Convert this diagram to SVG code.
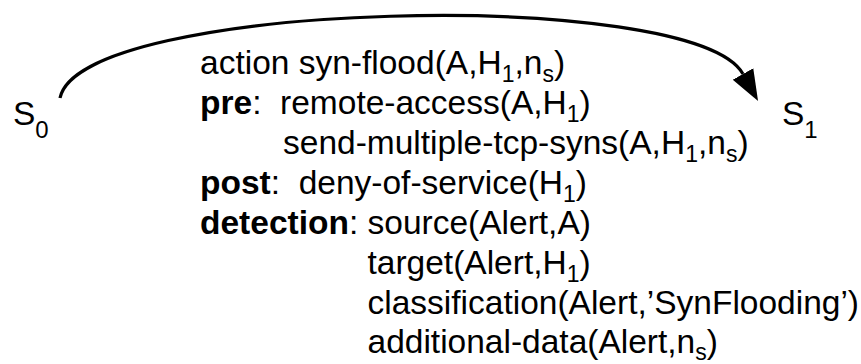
<svg xmlns="http://www.w3.org/2000/svg" width="861" height="364" viewBox="0 0 861 364">
  <style>
    text { font-family: "Liberation Sans", Arial, Helvetica, sans-serif; font-size: 33.5px; fill: #000; }
    .b { font-weight: bold; }
    .sub { font-size: 23px; }
    .ssub { font-size: 24px; }
    .edge { fill: none; stroke: #000; stroke-width: 3.2; }
  </style>
  <defs>
    <marker id="arrow" markerUnits="userSpaceOnUse" markerWidth="32" markerHeight="26" refX="0" refY="11" orient="auto" viewBox="0 0 30 22">
      <path d="M0,0 L29,11 L0,22 z" fill="#000"/>
    </marker>
  </defs>

  <!-- states -->
  <g id="s0">
    <text x="13" y="125">S<tspan class="ssub" dy="13">0</tspan></text>
  </g>
  <g id="s1">
    <text x="782" y="125">S<tspan class="ssub" dy="13">1</tspan></text>
  </g>

  <!-- transition -->
  <g id="connectors">
    <path class="edge" d="M60,98 C80,0 694,-14 743,74" marker-end="url(#arrow)"/>
  </g>

  <!-- action definition -->
  <g id="action">
    <text x="200" y="74">action syn-flood(A,H<tspan class="sub" dy="8">1</tspan><tspan dy="-8">,n</tspan><tspan class="sub" dy="8">s</tspan><tspan dy="-8">)</tspan></text>
    <text x="200" y="114" xml:space="preserve"><tspan class="b">pre</tspan>:  remote-access(A,H<tspan class="sub" dy="8">1</tspan><tspan dy="-8">)</tspan></text>
    <text x="283" y="154">send-multiple-tcp-syns(A,H<tspan class="sub" dy="8">1</tspan><tspan dy="-8">,n</tspan><tspan class="sub" dy="8">s</tspan><tspan dy="-8">)</tspan></text>
    <text x="200" y="194" xml:space="preserve"><tspan class="b">post</tspan>:  deny-of-service(H<tspan class="sub" dy="8">1</tspan><tspan dy="-8">)</tspan></text>
    <text x="200" y="234"><tspan class="b">detection</tspan>: source(Alert,A)</text>
    <text x="367.5" y="274">target(Alert,H<tspan class="sub" dy="8">1</tspan><tspan dy="-8">)</tspan></text>
    <text x="367.5" y="314">classification(Alert,’SynFlooding’)</text>
    <text x="367.5" y="353">additional-data(Alert,n<tspan class="sub" dy="7">s</tspan><tspan dy="-7">)</tspan></text>
  </g>
</svg>
